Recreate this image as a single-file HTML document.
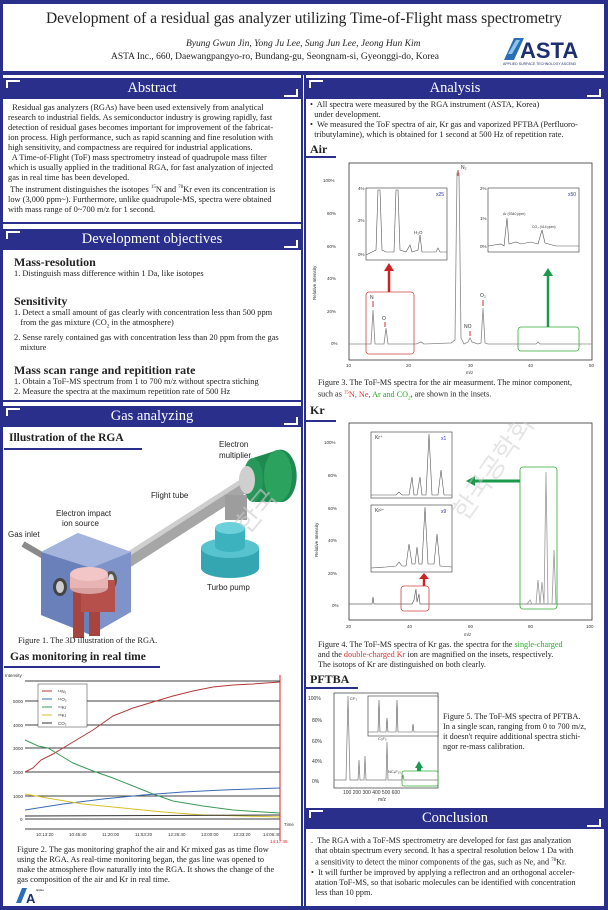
<!DOCTYPE html>
<html><head><meta charset="utf-8">
<style>
*{margin:0;padding:0;box-sizing:border-box}
body{width:608px;height:910px;overflow:hidden;background:#fff;font-family:"Liberation Serif",serif;color:#222;position:relative}
.a{position:absolute;white-space:nowrap}
.nv{background:#2b2f8c}
.hd{position:absolute;background:#2b2f8c;color:#fff;font-size:14.5px;text-align:center;line-height:20px}
.hd:before{content:"";position:absolute;left:3px;top:2px;width:12px;height:6px;border-left:2px solid #fff;border-top:2px solid #fff}
.hd:after{content:"";position:absolute;right:3px;bottom:2px;width:12px;height:6px;border-right:2px solid #fff;border-bottom:2px solid #fff}
.t{position:absolute;font-size:8.4px;line-height:10px;white-space:nowrap}
.sh{position:absolute;font-weight:bold;font-size:12px;white-space:nowrap}
.sa{font-family:"Liberation Sans",sans-serif}
</style></head><body>
<!-- frame -->
<div class="a nv" style="left:0;top:0;width:608px;height:4px"></div>
<div class="a nv" style="left:0;top:0;width:3px;height:910px"></div>
<div class="a nv" style="left:604px;top:0;width:4px;height:910px"></div>
<div class="a nv" style="left:0;top:71px;width:608px;height:4px"></div>
<div class="a nv" style="left:0;top:906px;width:608px;height:4px"></div>
<div class="a nv" style="left:301px;top:75px;width:2px;height:831px"></div>
<div class="a nv" style="left:304px;top:75px;width:2px;height:831px"></div>
<div class="a nv" style="left:3px;top:222px;width:298px;height:2px"></div>
<div class="a nv" style="left:3px;top:400px;width:298px;height:2px"></div>

<!-- title -->
<div class="a" style="left:0;width:608px;top:10px;text-align:center;font-size:15.5px">Development of a residual gas analyzer utilizing Time-of-Flight mass spectrometry</div>
<div class="a" style="left:186px;top:39px;font-size:9.5px;font-style:italic">Byung Gwun Jin, Yong Ju Lee, Sung Jun Lee, Jeong Hun Kim</div>
<div class="a" style="left:111px;top:52px;font-size:9.5px">ASTA Inc., 660, Daewangpangyo-ro, Bundang-gu, Seongnam-si, Gyeonggi-do, Korea</div>
<svg class="a" style="left:500px;top:34px" width="100" height="32"><polygon points="4,26 14,4 24,4 14,26" fill="#2a6fb5"/><polygon points="8,20 16,6 20,6 12,20" fill="#8ec3ea"/><text x="20" y="24" font-family="Liberation Sans" font-weight="bold" font-size="22" fill="#1d2f6f">ASTA</text><text x="3" y="31" font-family="Liberation Sans" font-size="3.5" fill="#1d2f6f">APPLIED SURFACE TECHNOLOGY ASCEND</text></svg>

<!-- Abstract -->
<div class="hd" style="left:3px;top:78px;width:298px;height:21px">Abstract</div>
<div class="t" style="left:8px;top:103px">&nbsp; Residual gas analyzers (RGAs) have been used extensively from analytical<br>research to industrial fields. As semiconductor industry is growing rapidly, fast<br>detection of residual gases becomes important for improvement of the fabricat-<br>ion process. High performance, such as rapid scanning and fine resolution with<br>high sensitivity, and compactness are required for industrial applications.<br>&nbsp; A Time-of-Flight (ToF) mass spectrometry instead of quadrupole mass filter<br>which is usually applied in the traditional RGA, for fast analyzation of injected<br>gas in real time has been developed.<br>&nbsp;The instrument distinguishes the isotopes <sup style="font-size:5px">15</sup>N and <sup style="font-size:5px">78</sup>Kr even its concentration is<br>low (3,000 ppm~). Furthermore, unlike quadrupole-MS, spectra were obtained<br>with mass range of 0~700 m/z for 1 second.</div>

<!-- Dev objectives -->
<div class="hd" style="left:3px;top:229px;width:298px;height:21px">Development objectives</div>
<div class="sh" style="left:14px;top:255px">Mass-resolution</div>
<div class="t" style="left:14px;top:269px">1. Distinguish mass difference within 1 Da, like isotopes</div>
<div class="sh" style="left:14px;top:294px">Sensitivity</div>
<div class="t" style="left:14px;top:308px">1. Detect a small amount of gas clearly with concentration less than 500 ppm<br>&nbsp;&nbsp;&nbsp;from the gas mixture (CO<sub style="font-size:5px">2</sub> in the atmosphere)<br>2. Sense rarely contained gas with concentration less than 20 ppm from the gas<br>&nbsp;&nbsp;&nbsp;mixture</div>
<div class="sh" style="left:14px;top:363px">Mass scan range and repitition rate</div>
<div class="t" style="left:14px;top:377px">1. Obtain a ToF-MS spectrum from 1 to 700 m/z without spectra stiching<br>2. Measure the spectra at the maximum repetition rate of 500 Hz</div>

<!-- Gas analyzing -->
<div class="hd" style="left:3px;top:406px;width:298px;height:21px">Gas analyzing</div>
<div class="sh" style="left:9px;top:432px;font-size:11.5px">Illustration of the RGA</div>
<div class="a nv" style="left:4px;top:448px;width:138px;height:2px"></div>
<svg class="a sa" style="left:3px;top:440px" width="298" height="200" font-family="Liberation Sans" font-size="8" fill="#222">
<text x="216" y="7">Electron</text><text x="216" y="18">multiplier</text>
<text x="148" y="58">Flight tube</text>
<text x="53" y="76">Electron impact</text><text x="59" y="86">ion source</text>
<text x="5" y="97">Gas inlet</text>
<text x="204" y="150">Turbo pump</text>
<!-- gas inlet -->
<line x1="20" y1="104" x2="44" y2="118" stroke="#8a8a8a" stroke-width="6"/>
<!-- flight tube -->
<polygon points="112,120 246,34 254,46 120,132" fill="#a6a6a6"/>
<polygon points="112,120 246,34 248,38 114,124" fill="#cfcfcf"/>
<!-- box -->
<polygon points="38,112 75,93 128,112 128,172 88,195 38,175" fill="#7d93c9"/>
<polygon points="75,93 128,112 88,128 38,112" fill="#a4b4dc"/>
<polygon points="38,112 88,128 88,195 38,175" fill="#6a80bb"/>
<ellipse cx="57" cy="147" rx="7" ry="9" fill="#444"/><ellipse cx="57" cy="147" rx="4" ry="6" fill="#ccc"/>
<ellipse cx="108" cy="140" rx="6" ry="9" fill="#555"/><ellipse cx="108" cy="140" rx="3" ry="6" fill="#ddd"/>
<rect x="70" y="148" width="11" height="50" fill="#a8443e"/>
<rect x="86" y="148" width="11" height="48" fill="#a8443e"/>
<rect x="78" y="140" width="34" height="32" fill="#b5504a"/>
<ellipse cx="86" cy="148" rx="19" ry="6" fill="#d9a0a0"/>
<rect x="67" y="134" width="38" height="14" fill="#e8b3b3"/>
<ellipse cx="86" cy="134" rx="19" ry="7" fill="#f2c6c6"/>
<!-- multiplier -->
<ellipse cx="246" cy="40" rx="10" ry="14" fill="#c4c4c4"/>
<path d="M250,18 L275,10 A16,26 0 0 1 280,62 L252,62 Z" fill="#1f8a4f"/>
<ellipse cx="275" cy="36" rx="14" ry="26" fill="#2ba35f"/>
<ellipse cx="250" cy="40" rx="10" ry="22" fill="#26985a"/>
<ellipse cx="244" cy="40" rx="8" ry="14" fill="#cfcfcf"/>
<!-- pump stem -->
<rect x="222" y="55" width="22" height="25" fill="#9d9d9d"/>
<path d="M198,108 v20 a29,10 0 0 0 58,0 v-20 z" fill="#34a6b2"/>
<ellipse cx="227" cy="108" rx="29" ry="10" fill="#56c3ce"/>
<path d="M212,88 v18 a15,6 0 0 0 30,0 v-18 z" fill="#3bb2be"/>
<ellipse cx="227" cy="88" rx="15" ry="6" fill="#6dd1db"/>
<text x="245" y="95" font-size="26" fill="#ccc" transform="rotate(-50 245 95)" opacity="0.6" font-family="Noto Sans CJK KR">한국</text>
</svg>
<div class="t" style="left:18px;top:636px">Figure 1. The 3D illustration of the RGA.</div>
<div class="sh" style="left:10px;top:651px;font-size:11.5px">Gas monitoring in real time</div>
<div class="a nv" style="left:4px;top:666px;width:156px;height:2px"></div>
<svg class="a sa" style="left:3px;top:668px" width="298" height="180" font-family="Liberation Sans" font-size="4.5" fill="#333">
<text x="2" y="9">Intensity</text>
<g stroke="#000" stroke-width="0.8">
<line x1="22" y1="13" x2="277" y2="13"/><line x1="22" y1="33" x2="277" y2="33"/><line x1="22" y1="57" x2="277" y2="57"/><line x1="22" y1="80" x2="277" y2="80"/><line x1="22" y1="104" x2="277" y2="104"/><line x1="22" y1="128" x2="277" y2="128"/><line x1="22" y1="151" x2="277" y2="151"/><line x1="22" y1="161" x2="277" y2="161"/></g>
<text x="10" y="35">5000</text><text x="10" y="59">4000</text><text x="10" y="82">3000</text><text x="10" y="106">2000</text><text x="10" y="130">1000</text><text x="17" y="153">0</text>
<text x="33" y="168">10:13:20</text><text x="66" y="168">10:46:40</text><text x="99" y="168">11:20:00</text><text x="132" y="168">11:53:20</text><text x="165" y="168">12:26:40</text><text x="198" y="168">13:00:00</text><text x="230" y="168">13:33:20</text><text x="260" y="168">14:06:40</text>
<text x="281" y="158">Time</text><text x="267" y="175" fill="#d22">14:17:45</text>
<polyline fill="none" stroke="#b23a3a" stroke-width="1" points="22,104 30,100 38,92 50,86 70,74 90,62 110,48 130,40 150,34 170,28 190,23 210,19 230,17 250,16 277,14"/>
<polyline fill="none" stroke="#3a9a5a" stroke-width="1" points="22,72 35,78 45,80 55,86 70,95 90,103 110,110 130,118 150,126 170,133 200,138 230,142 260,144 277,145"/>
<polyline fill="none" stroke="#3a6ab5" stroke-width="1" points="22,142 60,136 100,131 140,127 180,124 220,122 277,120"/>
<polyline fill="none" stroke="#d6c02a" stroke-width="1" points="22,126 50,131 80,136 120,140 160,144 200,147 240,148 277,149"/>
<polyline fill="none" stroke="#333" stroke-width="1" points="22,148 277,147"/>
<line x1="277" y1="7" x2="277" y2="172" stroke="#d22" stroke-width="1"/>
<rect x="35" y="16" width="49" height="43" fill="#fff" stroke="#333" stroke-width="0.5"/>
<g stroke-width="1"><line x1="39" y1="23" x2="49" y2="23" stroke="#b23a3a"/><line x1="39" y1="31" x2="49" y2="31" stroke="#3a6ab5"/><line x1="39" y1="39" x2="49" y2="39" stroke="#3a9a5a"/><line x1="39" y1="47" x2="49" y2="47" stroke="#d6c02a"/><line x1="39" y1="55" x2="49" y2="55" stroke="#333"/></g>
<text x="55" y="25">¹⁴N₂</text><text x="55" y="33">¹⁶O₂</text><text x="55" y="41">⁸⁴Kr</text><text x="55" y="49">⁸⁶Kr</text><text x="55" y="57">CO₂</text>
</svg>
<div class="t" style="left:17px;top:845px;font-size:8.3px">Figure 2. The gas monitoring graphof the air and Kr mixed gas as time flow<br>using the RGA. As real-time monitoring began, the gas line was opened to<br>make the atmosphere flow naturally into the RGA. It shows the change of the<br>gas composition of the air and Kr in real time.</div>
<svg class="a" style="left:14px;top:885px" width="30" height="20"><polygon points="2,18 8,3 13,3 7,18" fill="#2a6fb5"/><text x="12" y="18" font-family="Liberation Sans" font-weight="bold" font-size="13" fill="#1d2f6f">A</text><text x="22" y="6" font-size="2.5" font-family="Liberation Sans">Applied</text></svg>

<!-- Analysis -->
<div class="hd" style="left:306px;top:78px;width:298px;height:21px">Analysis</div>
<div class="t" style="left:310px;top:100px">•&nbsp; All spectra were measured by the RGA instrument (ASTA, Korea)<br>&nbsp;&nbsp;under development.<br>•&nbsp; We measured the ToF spectra of air, Kr gas and vaporized PFTBA (Perfluoro-<br>&nbsp;&nbsp;tributylamine), which is obtained for 1 second at 500 Hz of repetition rate.</div>
<div class="sh" style="left:310px;top:142px;font-size:12px">Air</div>
<div class="a nv" style="left:306px;top:156px;width:30px;height:2px"></div>
<svg class="a sa" style="left:306px;top:160px" width="298" height="215" font-family="Liberation Sans" font-size="4.5" fill="#333">
<rect x="43" y="3" width="243" height="197" fill="none" stroke="#333" stroke-width="0.8"/>
<text x="17" y="22">100%</text><text x="21" y="55">80%</text><text x="21" y="88">60%</text><text x="21" y="120">40%</text><text x="21" y="153">20%</text><text x="25" y="185">0%</text>
<text x="10" y="140" transform="rotate(-90 10 140)">Relative Intensity</text>
<text x="40" y="207">10</text><text x="100" y="207">20</text><text x="162" y="207">30</text><text x="222" y="207">40</text><text x="283" y="207">50</text><text x="160" y="214">m/z</text>
<polyline fill="none" stroke="#888" stroke-width="0.8" points="43,184 65,184 67,150 69,184 78,184 80,168 82,184 110,184 115,182 118,184 145,183 149,180 151,13 153,13 155,178 158,184 162,182 164,178 166,182 172,184 175,183 177,148 179,183 182,184 230,184 232,182 234,184 286,184"/>
<g stroke="#c33" stroke-width="1"><line x1="152" y1="10" x2="152" y2="16"/><line x1="67" y1="141" x2="67" y2="147"/><line x1="79" y1="162" x2="79" y2="167"/><line x1="164" y1="171" x2="164" y2="176"/><line x1="177" y1="140" x2="177" y2="146"/></g>
<text x="155" y="9" font-size="5">N₂</text><text x="64" y="139" font-size="5">N</text><text x="76" y="160" font-size="5">O</text><text x="158" y="168" font-size="5">NO</text><text x="174" y="137" font-size="5">O₂</text>
<rect x="60" y="28" width="81" height="72" fill="#fff" stroke="#333" stroke-width="0.6"/>
<polyline fill="none" stroke="#555" stroke-width="0.6" points="60,95 70,90 72,30 74,30 76,90 80,92 88,92 90,30 92,30 94,90 100,92 104,85 106,92 112,90 114,75 116,92 130,92 132,88 134,92 141,92"/>
<text x="130" y="36" fill="#33a" font-size="5">x25</text><text x="52" y="30">4%</text><text x="52" y="62">2%</text><text x="52" y="96">0%</text><text x="108" y="74">H₂O</text>
<rect x="182" y="28" width="91" height="64" fill="#fff" stroke="#333" stroke-width="0.6"/>
<polyline fill="none" stroke="#555" stroke-width="0.6" points="182,86 195,84 198,86 201,58 203,84 210,82 215,84 225,82 232,84 236,70 239,83 250,86 273,86"/>
<text x="262" y="36" fill="#33a" font-size="5">x50</text><text x="174" y="30">2%</text><text x="174" y="60">1%</text><text x="174" y="88">0%</text><text x="197" y="55" font-size="3.5">Ar (9340 ppm)</text><text x="226" y="68" font-size="3.5">CO₂ (414 ppm)</text>
<rect x="60" y="132" width="48" height="62" rx="3" fill="none" stroke="#c44" stroke-width="0.8"/>
<rect x="212" y="167" width="61" height="24" rx="3" fill="none" stroke="#3a3" stroke-width="0.8"/>
<line x1="83" y1="132" x2="83" y2="110" stroke="#c22" stroke-width="2.5"/><polygon points="78,111 88,111 83,103" fill="#c22"/>
<line x1="242" y1="167" x2="242" y2="115" stroke="#1a9a4a" stroke-width="2.5"/><polygon points="237,116 247,116 242,108" fill="#1a9a4a"/>
</svg>
<div class="t" style="left:318px;top:378px;font-size:8.2px">Figure 3. The ToF-MS spectra for the air measurment. The minor component,<br>such as <span style="color:#d33"><sup style="font-size:5px">15</sup>N, Ne,</span> <span style="color:#2a2">Ar and CO<sub style="font-size:5px">2</sub></span>, are shown in the insets.</div>
<div class="sh" style="left:310px;top:403px;font-size:12px">Kr</div>
<div class="a nv" style="left:306px;top:420px;width:30px;height:2px"></div>
<svg class="a sa" style="left:306px;top:422px" width="298" height="218" font-family="Liberation Sans" font-size="4.5" fill="#333">
<rect x="43" y="1" width="243" height="197" fill="none" stroke="#333" stroke-width="0.8"/>
<text x="18" y="22">100%</text><text x="22" y="55">80%</text><text x="22" y="88">60%</text><text x="22" y="120">40%</text><text x="22" y="153">20%</text><text x="26" y="185">0%</text>
<text x="12" y="135" transform="rotate(-90 12 135)">Relative Intensity</text>
<text x="40" y="206">20</text><text x="101" y="206">40</text><text x="162" y="206">60</text><text x="222" y="206">80</text><text x="280" y="206">100</text><text x="158" y="214">m/z</text>
<polyline fill="none" stroke="#666" stroke-width="0.7" points="43,182 66,182 67,175 68,182 106,182 108,178 110,167 111,180 113,172 114,182 286,182"/>
<polyline fill="none" stroke="#999" stroke-width="0.8" points="221,182 224,178 226,182 230,182 232,158 234,182 236,160 238,182 240,50 242,182 246,182 248,128 250,182 286,182"/>
<rect x="65" y="10" width="81" height="66" fill="#fff" stroke="#333" stroke-width="0.6"/>
<polyline fill="none" stroke="#555" stroke-width="0.6" points="65,73 90,73 93,70 96,73 103,73 106,55 108,73 111,73 114,55 116,73 120,73 123,12 126,73 132,73 135,48 138,73 146,73"/>
<text x="135" y="18" fill="#33a" font-size="5">x1</text><text x="69" y="17" font-size="5">Kr⁺</text>
<rect x="65" y="83" width="81" height="67" fill="#fff" stroke="#333" stroke-width="0.6"/>
<polyline fill="none" stroke="#555" stroke-width="0.6" points="65,146 80,145 90,144 93,140 96,144 100,144 103,122 106,142 109,142 111,125 113,142 116,142 119,85 122,142 128,142 131,112 134,144 146,145"/>
<text x="135" y="91" fill="#33a" font-size="5">x9</text><text x="69" y="90" font-size="5">Kr²⁺</text>
<rect x="214" y="45" width="37" height="142" rx="3" fill="none" stroke="#3a3" stroke-width="0.8"/>
<rect x="95" y="164" width="28" height="25" rx="3" fill="none" stroke="#c44" stroke-width="0.8"/>
<line x1="214" y1="59" x2="168" y2="59" stroke="#1a9a4a" stroke-width="3"/><polygon points="169,54 169,64 160,59" fill="#1a9a4a"/>
<line x1="118" y1="164" x2="118" y2="156" stroke="#c22" stroke-width="2.5"/><polygon points="113,157 123,157 118,151" fill="#c22"/>
<text x="160" y="100" font-size="26" fill="#ccc" opacity="0.5" transform="rotate(-55 160 100)" font-family="Noto Sans CJK KR">한국공학회</text>
</svg>
<div class="t" style="left:318px;top:640px;font-size:8.2px">Figure 4. The ToF-MS spectra of Kr gas. the spectra for the <span style="color:#2a2">single-charged</span><br>and the <span style="color:#d33">double-charged Kr</span> ion are magnified on the insets, respectively.<br>The isotops of Kr are distinguished on both clearly.</div>
<div class="sh" style="left:310px;top:672px;font-size:12px">PFTBA</div>
<div class="a nv" style="left:306px;top:687px;width:52px;height:2px"></div>
<svg class="a sa" style="left:306px;top:690px" width="138" height="115" font-family="Liberation Sans" font-size="5" fill="#333">
<rect x="28" y="3" width="104" height="95" fill="none" stroke="#333" stroke-width="0.7"/>
<text x="2" y="10">100%</text><text x="6" y="32">80%</text><text x="6" y="53">60%</text><text x="6" y="73">40%</text><text x="6" y="93">0%</text>
<polyline fill="none" stroke="#777" stroke-width="0.7" points="28,90 40,90 42,6 44,90 52,90 53,70 54,90 58,90 59,66 60,90 80,90 81,52 82,90 96,90 97,85 98,90 132,90"/>
<rect x="62" y="6" width="70" height="40" fill="#fff" stroke="#333" stroke-width="0.6"/>
<polyline fill="none" stroke="#555" stroke-width="0.6" points="62,42 72,42 73,10 74,42 80,42 81,28 82,42 90,42 91,10 92,42 106,42 107,34 108,42 132,42"/>
<rect x="96" y="81" width="36" height="15" rx="2" fill="none" stroke="#3a3" stroke-width="0.8"/>
<polygon points="109,78 117,78 113,71" fill="#1a9a4a"/><rect x="111" y="77" width="4" height="4" fill="#1a9a4a"/>
<text x="37" y="104">100 200 300 400 500 600</text><text x="72" y="111">m/z</text>
<text x="44" y="10" font-size="4">CF₃</text><text x="72" y="50" font-size="4">C₃F₅</text><text x="82" y="83" font-size="4">NC₄F₁₀</text>
</svg>
<div class="t" style="left:443px;top:712px;font-size:8.2px">Figure 5. The ToF-MS spectra of PFTBA.<br>In a single scan, ranging from 0 to 700 m/z,<br>it doesn't require additional spectra stichi-<br>ngor re-mass calibration.</div>

<!-- Conclusion -->
<div class="hd" style="left:306px;top:808px;width:298px;height:21px">Conclusion</div>
<div class="t" style="left:311px;top:836px;font-size:8.2px">.&nbsp; The RGA with a ToF-MS spectrometry are developed for fast gas analyzation<br>&nbsp;&nbsp;that obtain spectrum every second. It has a spectral resolution below 1 Da with<br>&nbsp;&nbsp;a sensitivity to detect the minor components of the gas, such as Ne, and <sup style="font-size:5px">78</sup>Kr.<br>•&nbsp; It will further be improved by applying a reflectron and an orthogonal acceler-<br>&nbsp;&nbsp;atation ToF-MS, so that isobaric molecules can be identified with concentration<br>&nbsp;&nbsp;less than 10 ppm.</div>
</body></html>
